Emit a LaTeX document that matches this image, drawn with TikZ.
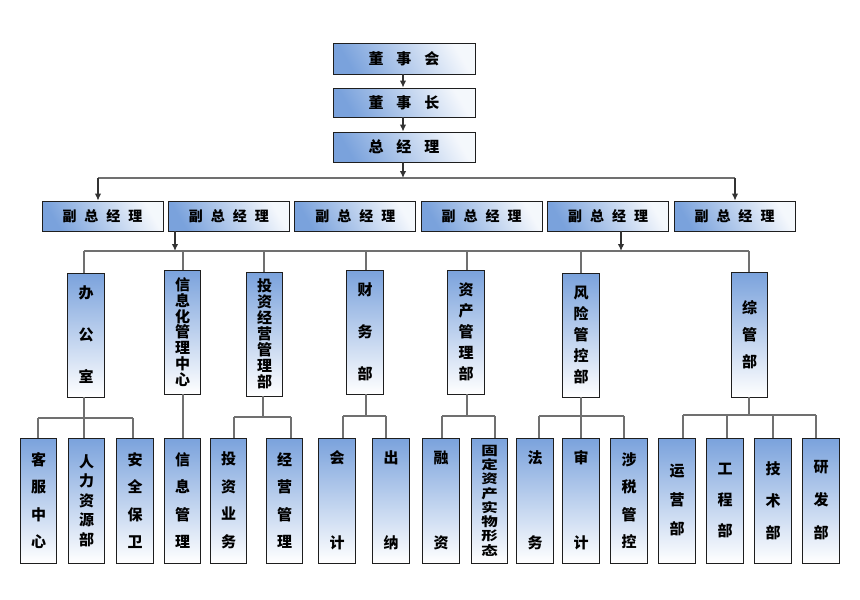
\documentclass[tikz,border=0pt]{standalone}
\usepackage{fontspec}
\newfontfamily\cjk{Noto Sans CJK SC}
\usetikzlibrary{arrows.meta}
\definecolor{boxblue}{RGB}{122,162,220}
\definecolor{lngray}{RGB}{112,112,112}
\definecolor{bord}{RGB}{30,30,30}
\newcommand{\fz}[2]{\cjk\bfseries\fontsize{#1}{#2}\selectfont\lineskiplimit=-100pt\relax}
\tikzset{
  hbox/.style={draw=bord, line width=0.9pt, top color=boxblue!8, bottom color=boxblue, shading angle=-60,
    minimum width=142pt, minimum height=30pt, inner sep=0pt, font=\fz{15}{18}},
  fbox/.style={hbox, minimum width=121pt, font=\fz{14}{18}},
  vbox/.style={draw=bord, line width=0.9pt, top color=boxblue, bottom color=white,
    minimum width=36.5pt, minimum height=124pt, inner sep=0pt, align=center},
  sbox/.style={vbox, minimum height=125pt},
  ln/.style={draw=lngray, line width=1.5pt},
  arr/.style={draw=black!80, line width=1.2pt, -{Latex[length=7pt,width=6.5pt]}},
}
\begin{document}
\begin{tikzpicture}[x=1pt,y=-1pt]
\useasboundingbox (0,0) rectangle (860,600);
\fill[white] (0,0) rectangle (860,600);
% top chain
\node[hbox, minimum height=31pt] (dsh) at (404,58.5) {董\hspace{13pt}事\hspace{13pt}会};
\node[hbox, minimum height=29pt] (dsz) at (404,102.5) {董\hspace{13pt}事\hspace{13pt}长};
\node[hbox] (zjl) at (404,147) {总\hspace{13pt}经\hspace{13pt}理};
\draw[arr] (dsh.south -| 403,0) -- (dsz.north -| 403,0);
\draw[arr] (dsz.south -| 403,0) -- (zjl.north -| 403,0);
% vice presidents
\foreach \i/\x in {1/102.5,2/228.9,3/355.3,4/481.7,5/608.1,6/734.5}
  \node[fbox] (fz\i) at (\x,216) {副\hspace{8pt}总\hspace{8pt}经\hspace{8pt}理};
\coordinate (b0) at (403,178);
\coordinate (a1) at (98,178);
\coordinate (a6) at (735,178);
\draw[ln] (a1) -- (a6);
\draw[arr] (zjl.south -| b0) -- (b0);
\draw[arr] (a1) -- (a1 |- fz1.north);
\draw[arr] (a6) -- (a6 |- fz6.north);
% departments
\node[vbox, font=\fz{15}{42}] (bgs) at (86,335) {办\\公\\室};
\node[vbox, font=\fz{15}{15.8}] (xxh) at (182.5,332) {信\\息\\化\\管\\理\\中\\心};
\node[vbox, font=\fz{15}{16}] (tz) at (264.5,334) {投\\资\\经\\营\\管\\理\\部};
\node[vbox, font=\fz{15}{42}] (cw) at (365,332) {财\\务\\部};
\node[vbox, font=\fz{15}{21}] (zc) at (466,332) {资\\产\\管\\理\\部};
\node[vbox, font=\fz{15}{21}] (fx) at (581,335) {风\\险\\管\\控\\部};
\node[vbox, minimum height=125pt, font=\fz{15}{27}] (zg) at (749.5,334.5) {综\\管\\部};
\coordinate (c2) at (175,251);
\coordinate (c5) at (621,251);
\draw[arr] (c2 |- fz2.south) -- (c2);
\draw[arr] (c5 |- fz5.south) -- (c5);
\coordinate (u1) at (84,251);
\coordinate (u7) at (749,251);
\draw[ln] (u1) -- (u7);
\draw[ln] (u1) -- (u1 |- bgs.north);
\foreach \n/\x in {xxh/183,tz/264,cw/366,zc/467,fx/581,zg/749}
  \draw[ln] (\x,251) -- (\n.north -| \x,0);
% sub departments
\node[sbox, font=\fz{15}{27.3}] (kf) at (38.5,500.5) {客\\服\\中\\心};
\node[sbox, font=\fz{15}{19.5}] (rl) at (86.5,500.5) {人\\力\\资\\源\\部};
\node[sbox, font=\fz{15}{27.5}] (aq) at (135,500.5) {安\\全\\保\\卫};
\node[sbox, font=\fz{15}{27.5}] (xx) at (182.5,500.5) {信\\息\\管\\理};
\node[sbox, font=\fz{15}{27.5}] (tzyw) at (228.5,500.5) {投\\资\\业\\务};
\node[sbox, font=\fz{15}{27.5}] (jy) at (284.5,500.5) {经\\营\\管\\理};
\node[sbox, font=\fz{15}{85}] (kj) at (337,500.5) {会\\计};
\node[sbox, font=\fz{15}{85}] (cn) at (391,500.5) {出\\纳};
\node[sbox, font=\fz{15}{85}] (rz) at (441,500.5) {融\\资};
\node[sbox] (gd) at (489.5,500.5) {\scalebox{1.1}[0.84]{\vbox{\fz{15}{17}\hbox{固}\hbox{定}\hbox{资}\hbox{产}\hbox{实}\hbox{物}\hbox{形}\hbox{态}}}};
\node[sbox, font=\fz{15}{85}] (fw) at (535,500.5) {法\\务};
\node[sbox, font=\fz{15}{85}] (sj) at (581,500.5) {审\\计};
\node[sbox, font=\fz{15}{27.5}] (ss) at (629,500.5) {涉\\税\\管\\控};
\node[sbox, font=\fz{15}{29}] (yy) at (677,500.5) {运\\营\\部};
\node[sbox, font=\fz{15}{31}] (gc) at (725,500.5) {工\\程\\部};
\node[sbox, font=\fz{15}{32}] (js) at (773,500.5) {技\\术\\部};
\node[sbox, font=\fz{15}{33}] (yf) at (821,500.5) {研\\发\\部};
% group connectors
% office
\draw[ln] (bgs.south -| 84,0) -- (rl.north -| 84,0);
\draw[ln] (38,418) -- (133,418);
\draw[ln] (38,418) -- (kf.north -| 38,0);
\draw[ln] (133,418) -- (aq.north -| 133,0);
% info
\draw[ln] (xxh.south -| 183,0) -- (xx.north -| 183,0);
% invest
\draw[ln] (tz.south -| 263,0) -- (263,417);
\draw[ln] (234,417) -- (291,417);
\draw[ln] (234,417) -- (tzyw.north -| 234,0);
\draw[ln] (291,417) -- (jy.north -| 291,0);
% finance
\draw[ln] (cw.south -| 366,0) -- (366,416);
\draw[ln] (343,416) -- (386,416);
\draw[ln] (343,416) -- (kj.north -| 343,0);
\draw[ln] (386,416) -- (cn.north -| 386,0);
% assets
\draw[ln] (zc.south -| 467,0) -- (467,416);
\draw[ln] (442,416) -- (495,416);
\draw[ln] (442,416) -- (rz.north -| 442,0);
\draw[ln] (495,416) -- (gd.north -| 495,0);
% risk
\draw[ln] (fx.south -| 581,0) -- (sj.north -| 581,0);
\draw[ln] (539,416) -- (624,416);
\draw[ln] (539,416) -- (fw.north -| 539,0);
\draw[ln] (624,416) -- (ss.north -| 624,0);
% general
\draw[ln] (zg.south -| 749,0) -- (749,415);
\draw[ln] (683,415) -- (816,415);
\draw[ln] (683,415) -- (yy.north -| 683,0);
\draw[ln] (727,415) -- (gc.north -| 727,0);
\draw[ln] (773,415) -- (js.north -| 773,0);
\draw[ln] (816,415) -- (yf.north -| 816,0);
\end{tikzpicture}
\end{document}
